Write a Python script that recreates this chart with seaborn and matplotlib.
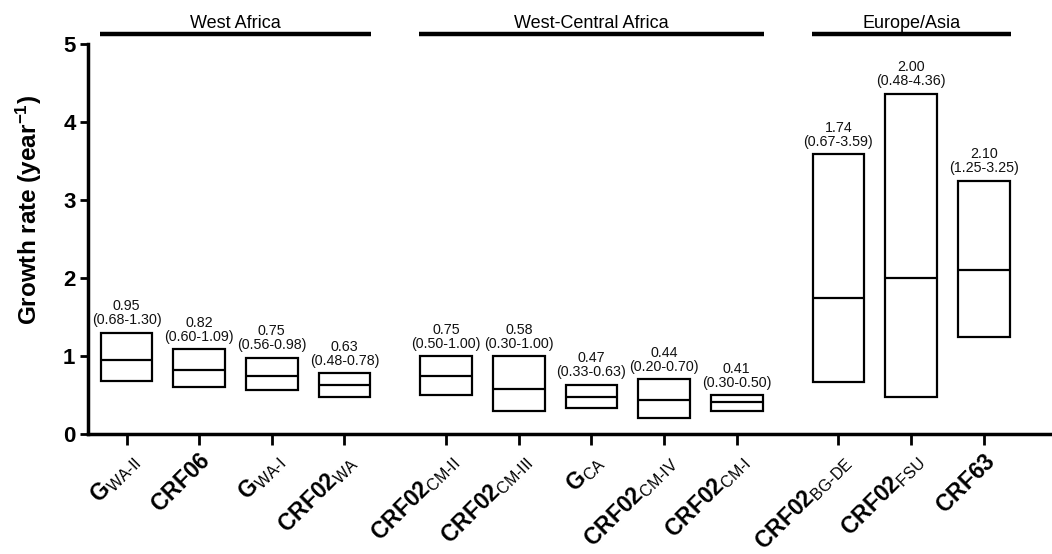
import matplotlib
matplotlib.use("Agg")
import matplotlib.pyplot as plt
from matplotlib.transforms import ScaledTranslation
import seaborn as sns

# Lineages: bold main name + subscript tag
names = ["G", "CRF06", "G", "CRF02", "CRF02", "CRF02", "G", "CRF02",
         "CRF02", "CRF02", "CRF02", "CRF63"]
subs = ["WA-II", "", "WA-I", "WA", "CM-II", "CM-III", "CA", "CM-IV",
        "CM-I", "BG-DE", "FSU", ""]
regions = ["West Africa"] * 4 + ["West-Central Africa"] * 5 + ["Europe/Asia"] * 3

# Growth rate (per year): median and 95% interval
median = [0.95, 0.82, 0.75, 0.63, 0.75, 0.58, 0.47, 0.44, 0.41, 1.74, 2.00, 2.10]
low = [0.68, 0.60, 0.56, 0.48, 0.50, 0.30, 0.33, 0.20, 0.30, 0.67, 0.48, 1.25]
high = [1.30, 1.09, 0.98, 0.78, 1.00, 1.00, 0.63, 0.70, 0.50, 3.59, 4.36, 3.25]

sns.set_theme(style="ticks")
plt.rcParams["font.family"] = ["Liberation Sans", "DejaVu Sans"]
plt.rcParams["mathtext.fontset"] = "custom"
plt.rcParams["mathtext.rm"] = "Liberation Sans"
plt.rcParams["mathtext.bf"] = "Liberation Sans:bold"
plt.rcParams["mathtext.it"] = "Liberation Sans:italic"
for key in ("text.color", "axes.labelcolor", "xtick.color", "ytick.color",
            "axes.edgecolor"):
    plt.rcParams[key] = "black"

# x positions with a gap between regions
group_order = []
for r in regions:
    if r not in group_order:
        group_order.append(r)
pos = [i + 0.4 * group_order.index(r) for i, r in enumerate(regions)]

W = 0.71
fig = plt.figure(figsize=(10.52, 5.54), dpi=100)
ax = fig.add_axes([88 / 1052, 1 - 434 / 554, 1 - 88 / 1052, 390 / 554])

span = [h - l for h, l in zip(high, low)]
sns.barplot(x=pos, y=span, bottom=low, native_scale=True, width=W,
            fill=False, color="black", linewidth=1.6, errorbar=None, ax=ax)
ax.hlines(median, [p - W / 2 for p in pos], [p + W / 2 for p in pos],
          color="black", lw=1.6)

for p, m, l, h in zip(pos, median, low, high):
    ax.text(p, h + 0.07, f"{m:.2f}\n({l:.2f}-{h:.2f})", ha="center",
            va="bottom", fontsize=10.3, linespacing=1.0, color="#111111")

# region brackets above the plot
for g in group_order:
    idx = [i for i, r in enumerate(regions) if r == g]
    x0, x1 = pos[idx[0]] - 0.37, pos[idx[-1]] + 0.37
    ax.plot([x0, x1], [5.13, 5.13], color="black", lw=3.2,
            solid_capstyle="butt", clip_on=False)
    ax.text((x0 + x1) / 2, 5.21, g, ha="center", va="baseline",
            fontsize=13, clip_on=False)

labels = []
for n, s in zip(names, subs):
    if s:
        labels.append(r"$\mathbf{" + n + r"}_{\text{" + s + r"}}$")
    else:
        labels.append(r"$\mathbf{" + n + r"}$")

ax.set_xlim(-0.53, 12.74)
ax.set_ylim(0, 5)
ax.set_xticks(pos)
ax.set_xticklabels(labels, rotation=45, ha="right", rotation_mode="anchor",
                   fontsize=16.5)
shift = ScaledTranslation(-6 / 100, 5 / 100, fig.dpi_scale_trans)
for lbl in ax.get_xticklabels():
    lbl.set_transform(lbl.get_transform() + shift)
ax.set_yticks(range(6))
ax.set_yticklabels([str(v) for v in range(6)], fontsize=16, fontweight="bold")
ax.tick_params(axis="x", length=8, width=2, pad=3)
ax.tick_params(axis="y", length=6, width=2, pad=3)
ax.set_xlabel("")
ax.set_ylabel(r"Growth rate (year$^{\mathbf{-1}}$)", fontsize=17.5,
              fontweight="bold")
ax.yaxis.set_label_coords(-0.046, 0.574)
sns.despine(ax=ax)
for sp in ("left", "bottom"):
    ax.spines[sp].set_linewidth(2.5)

fig.savefig("out.png", dpi=100)
